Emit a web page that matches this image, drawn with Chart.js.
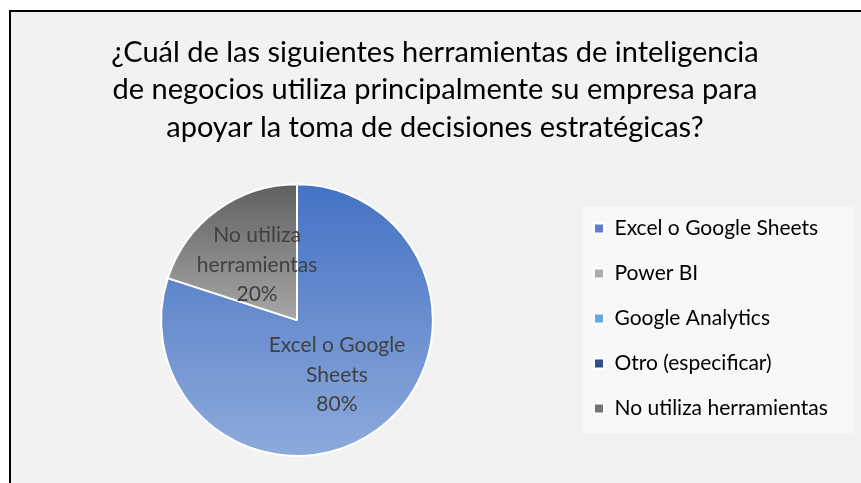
<!DOCTYPE html>
<html>
<head>
<meta charset="utf-8">
<script src="https://cdn.jsdelivr.net/npm/chart.js@4.4.1/dist/chart.umd.min.js"></script>
<style>
  html, body { margin: 0; padding: 0; background: #ffffff; }
  #frame {
    position: absolute; left: 9px; top: 10px; width: 851px; height: 480px;
    border-top: 2px solid #000; border-left: 2px solid #000;
    background: #f2f2f2;
  }
  #wrap { position: absolute; left: 0; top: 0; width: 861px; height: 483px; }
</style>
</head>
<body>
<div id="frame"></div>
<div id="wrap"><canvas id="pieCanvas" width="861" height="483"></canvas></div>
<script>
const titleLines = [
  '¿Cuál de las siguientes herramientas de inteligencia',
  'de negocios utiliza principalmente su empresa para',
  'apoyar la toma de decisiones estratégicas?'
];
const categories = ['Excel o Google Sheets', 'Power BI', 'Google Analytics', 'Otro (especificar)', 'No utiliza herramientas'];
const values = [80, 0, 0, 0, 20];
const legendColors = ['#5a7ecb', '#acacac', '#6aa6dc', '#2f4f8f', '#747474'];

const FONT = 'Lato, "Open Sans", sans-serif';

// gradiente vertical para cada porción (como en Excel)
const sliceFill = (context) => {
  const chart = context.chart;
  const area = chart.chartArea;
  if (!area) return legendColors[context.dataIndex];
  const ctx = chart.ctx;
  const midY = (area.top + area.bottom) / 2;
  if (context.dataIndex === 0) {
    const g = ctx.createLinearGradient(0, area.top, 0, area.bottom);
    g.addColorStop(0, '#4472c4');
    g.addColorStop(1, '#8eaadb');
    return g;
  }
  if (context.dataIndex === 4) {
    const g = ctx.createLinearGradient(0, area.top, 0, midY);
    g.addColorStop(0, '#606060');
    g.addColorStop(1, '#a7a7a7');
    return g;
  }
  return legendColors[context.dataIndex];
};

// mueve la leyenda, ajusta el área de la torta y dibuja el fondo de la leyenda
const legendBox = {
  id: 'legendBox',
  afterLayout(chart) {
    const lg = chart.legend;
    const w = lg.width, h = lg.height;
    lg.left = 570; lg.right = lg.left + w;
    lg.top = 194; lg.bottom = lg.top + h;
    const area = chart.chartArea;
    area.right = 571;
    area.width = area.right - area.left;
  },
  beforeDraw(chart) {
    const ctx = chart.ctx;
    ctx.save();
    ctx.fillStyle = '#f8f8f8';
    ctx.fillRect(583, 207, 271, 226);
    ctx.restore();
  }
};

// etiquetas de datos dentro de la torta
const wrapText = (ctx, text, maxW) => {
  const words = text.split(' ');
  const lines = [];
  let cur = '';
  words.forEach((w) => {
    const test = cur ? cur + ' ' + w : w;
    if (ctx.measureText(test).width > maxW && cur) {
      lines.push(cur);
      cur = w;
    } else {
      cur = test;
    }
  });
  if (cur) lines.push(cur);
  return lines;
};

const sliceLabels = {
  id: 'sliceLabels',
  afterDatasetsDraw(chart) {
    const ctx = chart.ctx;
    const meta = chart.getDatasetMeta(0);
    const total = values.reduce((a, b) => a + b, 0);
    ctx.save();
    ctx.font = '21px ' + FONT;
    ctx.fillStyle = '#404040';
    ctx.textAlign = 'center';
    ctx.textBaseline = 'middle';
    meta.data.forEach((arc, i) => {
      if (!values[i]) return;
      const pos = arc.tooltipPosition();
      const lines = wrapText(ctx, categories[i], 150);
      lines.push(Math.round(values[i] / total * 100) + '%');
      const lh = 29.5;
      const y0 = pos.y - (lines.length - 1) * lh / 2;
      lines.forEach((ln, k) => ctx.fillText(ln, pos.x, y0 + k * lh));
    });
    ctx.restore();
  }
};

new Chart(document.getElementById('pieCanvas'), {
  type: 'pie',
  data: {
    labels: categories,
    datasets: [{
      data: values,
      backgroundColor: sliceFill,
      borderColor: '#ffffff',
      borderWidth: 2
    }]
  },
  options: {
    responsive: false,
    animation: false,
    layout: { padding: { top: 12, left: 23, right: 14, bottom: 26 } },
    plugins: {
      title: {
        display: true,
        text: titleLines,
        color: '#000000',
        font: { family: FONT, size: 29, weight: 'normal', lineHeight: 1.29 },
        padding: { top: 22, bottom: 37 }
      },
      legend: {
        position: 'right',
        align: 'start',
        labels: {
          font: { family: FONT, size: 21 },
          color: '#595959',
          boxWidth: 10,
          boxHeight: 10,
          padding: 24,
          generateLabels: () => categories.map((c, i) => ({
            text: c,
            fillStyle: legendColors[i],
            strokeStyle: '#ffffff',
            lineWidth: 2,
            hidden: false,
            index: i
          }))
        }
      },
      tooltip: { enabled: false }
    }
  },
  plugins: [legendBox, sliceLabels]
});
</script>
</body>
</html>
